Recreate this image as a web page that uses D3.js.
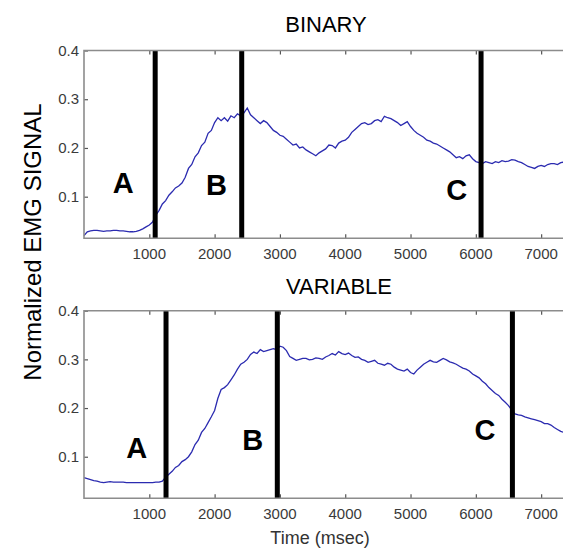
<!DOCTYPE html>
<html>
<head>
<meta charset="utf-8">
<script src="https://cdn.jsdelivr.net/npm/d3@7"></script>
<style>
  body { margin: 0; background: #fff; }
  text { font-family: "Liberation Sans", Arial, sans-serif; }
</style>
</head>
<body>
<div id="graph"></div>
<script>
// sampling step of both EMG traces, msec
const sampleStep = 50;

// x ticks and y ticks
const timeTicks = [1000, 2000, 3000, 4000, 5000, 6000, 7000];
const emgTicks = [0.1, 0.2, 0.3, 0.4];

// BINARY trace, one value per 50 msec from 0 (10 per row = 500 msec)
const binaryEmg = [
  0.020, 0.028, 0.030, 0.031, 0.031, 0.030, 0.029, 0.030, 0.030, 0.031,
  0.031, 0.030, 0.030, 0.029, 0.028, 0.028, 0.029, 0.031, 0.034, 0.038,
  0.042, 0.048, 0.062, 0.072, 0.085, 0.092, 0.103, 0.110, 0.118, 0.122,
  0.128, 0.140, 0.158, 0.166, 0.182, 0.190, 0.205, 0.212, 0.230, 0.236,
  0.252, 0.262, 0.256, 0.262, 0.255, 0.266, 0.262, 0.270, 0.266, 0.272,
  0.282, 0.268, 0.262, 0.256, 0.250, 0.256, 0.252, 0.244, 0.236, 0.232,
  0.226, 0.224, 0.218, 0.212, 0.206, 0.208, 0.200, 0.202, 0.196, 0.192,
  0.188, 0.184, 0.190, 0.194, 0.198, 0.206, 0.205, 0.200, 0.210, 0.214,
  0.216, 0.222, 0.232, 0.238, 0.244, 0.250, 0.252, 0.248, 0.250, 0.256,
  0.258, 0.254, 0.265, 0.262, 0.260, 0.256, 0.252, 0.246, 0.250, 0.254,
  0.244, 0.236, 0.230, 0.226, 0.222, 0.216, 0.214, 0.210, 0.208, 0.204,
  0.200, 0.196, 0.192, 0.186, 0.180, 0.182, 0.178, 0.184, 0.186, 0.178,
  0.172, 0.170, 0.168, 0.172, 0.170, 0.168, 0.172, 0.170, 0.174, 0.172,
  0.173, 0.176, 0.175, 0.172, 0.170, 0.166, 0.162, 0.160, 0.158, 0.162,
  0.164, 0.162, 0.166, 0.168, 0.168, 0.166, 0.170, 0.171
];

// VARIABLE trace, one value per 50 msec from 0
const variableEmg = [
  0.057, 0.055, 0.053, 0.051, 0.050, 0.048, 0.047, 0.048, 0.049, 0.048,
  0.048, 0.048, 0.048, 0.047, 0.047, 0.047, 0.047, 0.047, 0.047, 0.047,
  0.047, 0.047, 0.048, 0.048, 0.050, 0.058, 0.064, 0.070, 0.078, 0.082,
  0.090, 0.094, 0.100, 0.110, 0.125, 0.134, 0.150, 0.158, 0.170, 0.182,
  0.195, 0.220, 0.238, 0.242, 0.248, 0.258, 0.268, 0.280, 0.290, 0.294,
  0.300, 0.310, 0.315, 0.312, 0.320, 0.316, 0.318, 0.320, 0.322, 0.320,
  0.327, 0.325, 0.318, 0.306, 0.302, 0.298, 0.300, 0.302, 0.302, 0.299,
  0.300, 0.303, 0.302, 0.300, 0.305, 0.308, 0.312, 0.309, 0.316, 0.312,
  0.310, 0.313, 0.308, 0.304, 0.305, 0.300, 0.298, 0.294, 0.296, 0.298,
  0.292, 0.290, 0.288, 0.292, 0.290, 0.284, 0.280, 0.278, 0.276, 0.280,
  0.273, 0.270, 0.278, 0.284, 0.290, 0.294, 0.298, 0.295, 0.294, 0.298,
  0.302, 0.299, 0.295, 0.293, 0.290, 0.286, 0.282, 0.280, 0.276, 0.270,
  0.266, 0.262, 0.255, 0.250, 0.242, 0.236, 0.230, 0.226, 0.218, 0.212,
  0.205, 0.196, 0.188, 0.186, 0.185, 0.182, 0.180, 0.178, 0.176, 0.174,
  0.172, 0.168, 0.168, 0.165, 0.160, 0.156, 0.152, 0.150
];

// phase boundaries (msec) and phase letters
const binaryPhases = [1090, 2415, 6080];
const variablePhases = [1256, 2960, 6560];
const phaseNames = ["A", "B", "C"];
// where the letters sit: [time, emg]
const binaryLetters = [[600, 0.128], [2030, 0.124], [5707, 0.114]];
const variableLetters = [[807, 0.119], [2583, 0.136], [6141, 0.156]];

const width = 563, height = 549;

let svg = d3
  .select("#graph")
  .append("svg")
  .attr("width", width)
  .attr("height", height);

//one panel per condition
function drawPanel(title, values, phases, letters, top, bottom, titleX, titleY, showXLabel) {
  let x = d3.scaleLinear().domain([0, 7350]).range([84, 564]);
  let y = d3.scaleLinear().domain([0.0146, 0.4]).range([bottom, top]);

  let g = svg.append("g");

  // y axis with inward ticks
  g.append("g")
    .attr("transform", "translate(84,0)")
    .call(d3.axisRight(y).tickValues(emgTicks).tickSize(4).tickFormat(""))
    .call((a) => a.select(".domain").remove());
  emgTicks.forEach((t) => {
    g.append("text")
      .attr("x", 79)
      .attr("y", y(t))
      .attr("dy", "0.35em")
      .attr("text-anchor", "end")
      .attr("fill", "#3a3a3a")
      .style("font-size", "15px")
      .text(d3.format(".1f")(t));
  });

  // bottom axis, ticks pointing up
  g.append("g")
    .attr("transform", "translate(0," + bottom + ")")
    .call(d3.axisTop(x).tickValues(timeTicks).tickSize(4).tickFormat(""))
    .call((a) => a.select(".domain").remove());
  // top border ticks pointing down
  g.append("g")
    .attr("transform", "translate(0," + top + ")")
    .call(d3.axisBottom(x).tickValues(timeTicks).tickSize(4).tickFormat(""))
    .call((a) => a.select(".domain").remove());
  g.selectAll(".tick line").attr("stroke", "#555").attr("stroke-width", 1.2);

  timeTicks.forEach((t) => {
    g.append("text")
      .attr("x", x(t))
      .attr("y", bottom + 15)
      .attr("dy", "0.35em")
      .attr("text-anchor", "middle")
      .attr("fill", "#3a3a3a")
      .style("font-size", "15px")
      .text(t);
  });

  // trace
  let line = d3
    .line()
    .x((d, i) => x(i * sampleStep))
    .y((d) => y(d));
  g.append("path")
    .datum(values)
    .attr("fill", "none")
    .attr("stroke", "#2b2bb0")
    .attr("stroke-width", 1.3)
    .attr("d", line);

  // phase boundaries
  g.selectAll(".phase")
    .data(phases)
    .enter()
    .append("line")
    .attr("x1", (d) => x(d))
    .attr("x2", (d) => x(d))
    .attr("y1", top)
    .attr("y2", bottom)
    .attr("stroke", "#000")
    .attr("stroke-width", 5);

  // box (right side runs off the page)
  g.append("path")
    .attr("d", "M" + 566 + "," + top + "H84V" + bottom + "H566")
    .attr("fill", "none")
    .attr("stroke", "#8c8c8c")
    .attr("stroke-width", 1.6);

  g.selectAll(".letter")
    .data(letters)
    .enter()
    .append("text")
    .attr("x", (d) => x(d[0]))
    .attr("y", (d) => y(d[1]))
    .attr("dy", "0.36em")
    .attr("text-anchor", "middle")
    .style("font-size", "29px")
    .style("font-weight", "bold")
    .text((d, i) => phaseNames[i]);

  g.append("text")
    .attr("x", titleX)
    .attr("y", titleY)
    .attr("dy", "0.36em")
    .attr("text-anchor", "middle")
    .style("font-size", "22px")
    .text(title);

  if (showXLabel) {
    g.append("text")
      .attr("x", 320)
      .attr("y", 538)
      .attr("dy", "0.36em")
      .attr("text-anchor", "middle")
      .attr("fill", "#333")
      .style("font-size", "18px")
      .text("Time (msec)");
  }
}

drawPanel("BINARY", binaryEmg, binaryPhases, binaryLetters, 50.5, 238.3, 326, 24, false);
drawPanel("VARIABLE", variableEmg, variablePhases, variableLetters, 310.7, 498.3, 339, 286, true);

svg.append("text")
  .attr("transform", "translate(32,242) rotate(-90)")
  .attr("dy", "0.36em")
  .attr("text-anchor", "middle")
  .style("font-size", "24px")
  .text("Normalized EMG SIGNAL");
</script>
</body>
</html>
